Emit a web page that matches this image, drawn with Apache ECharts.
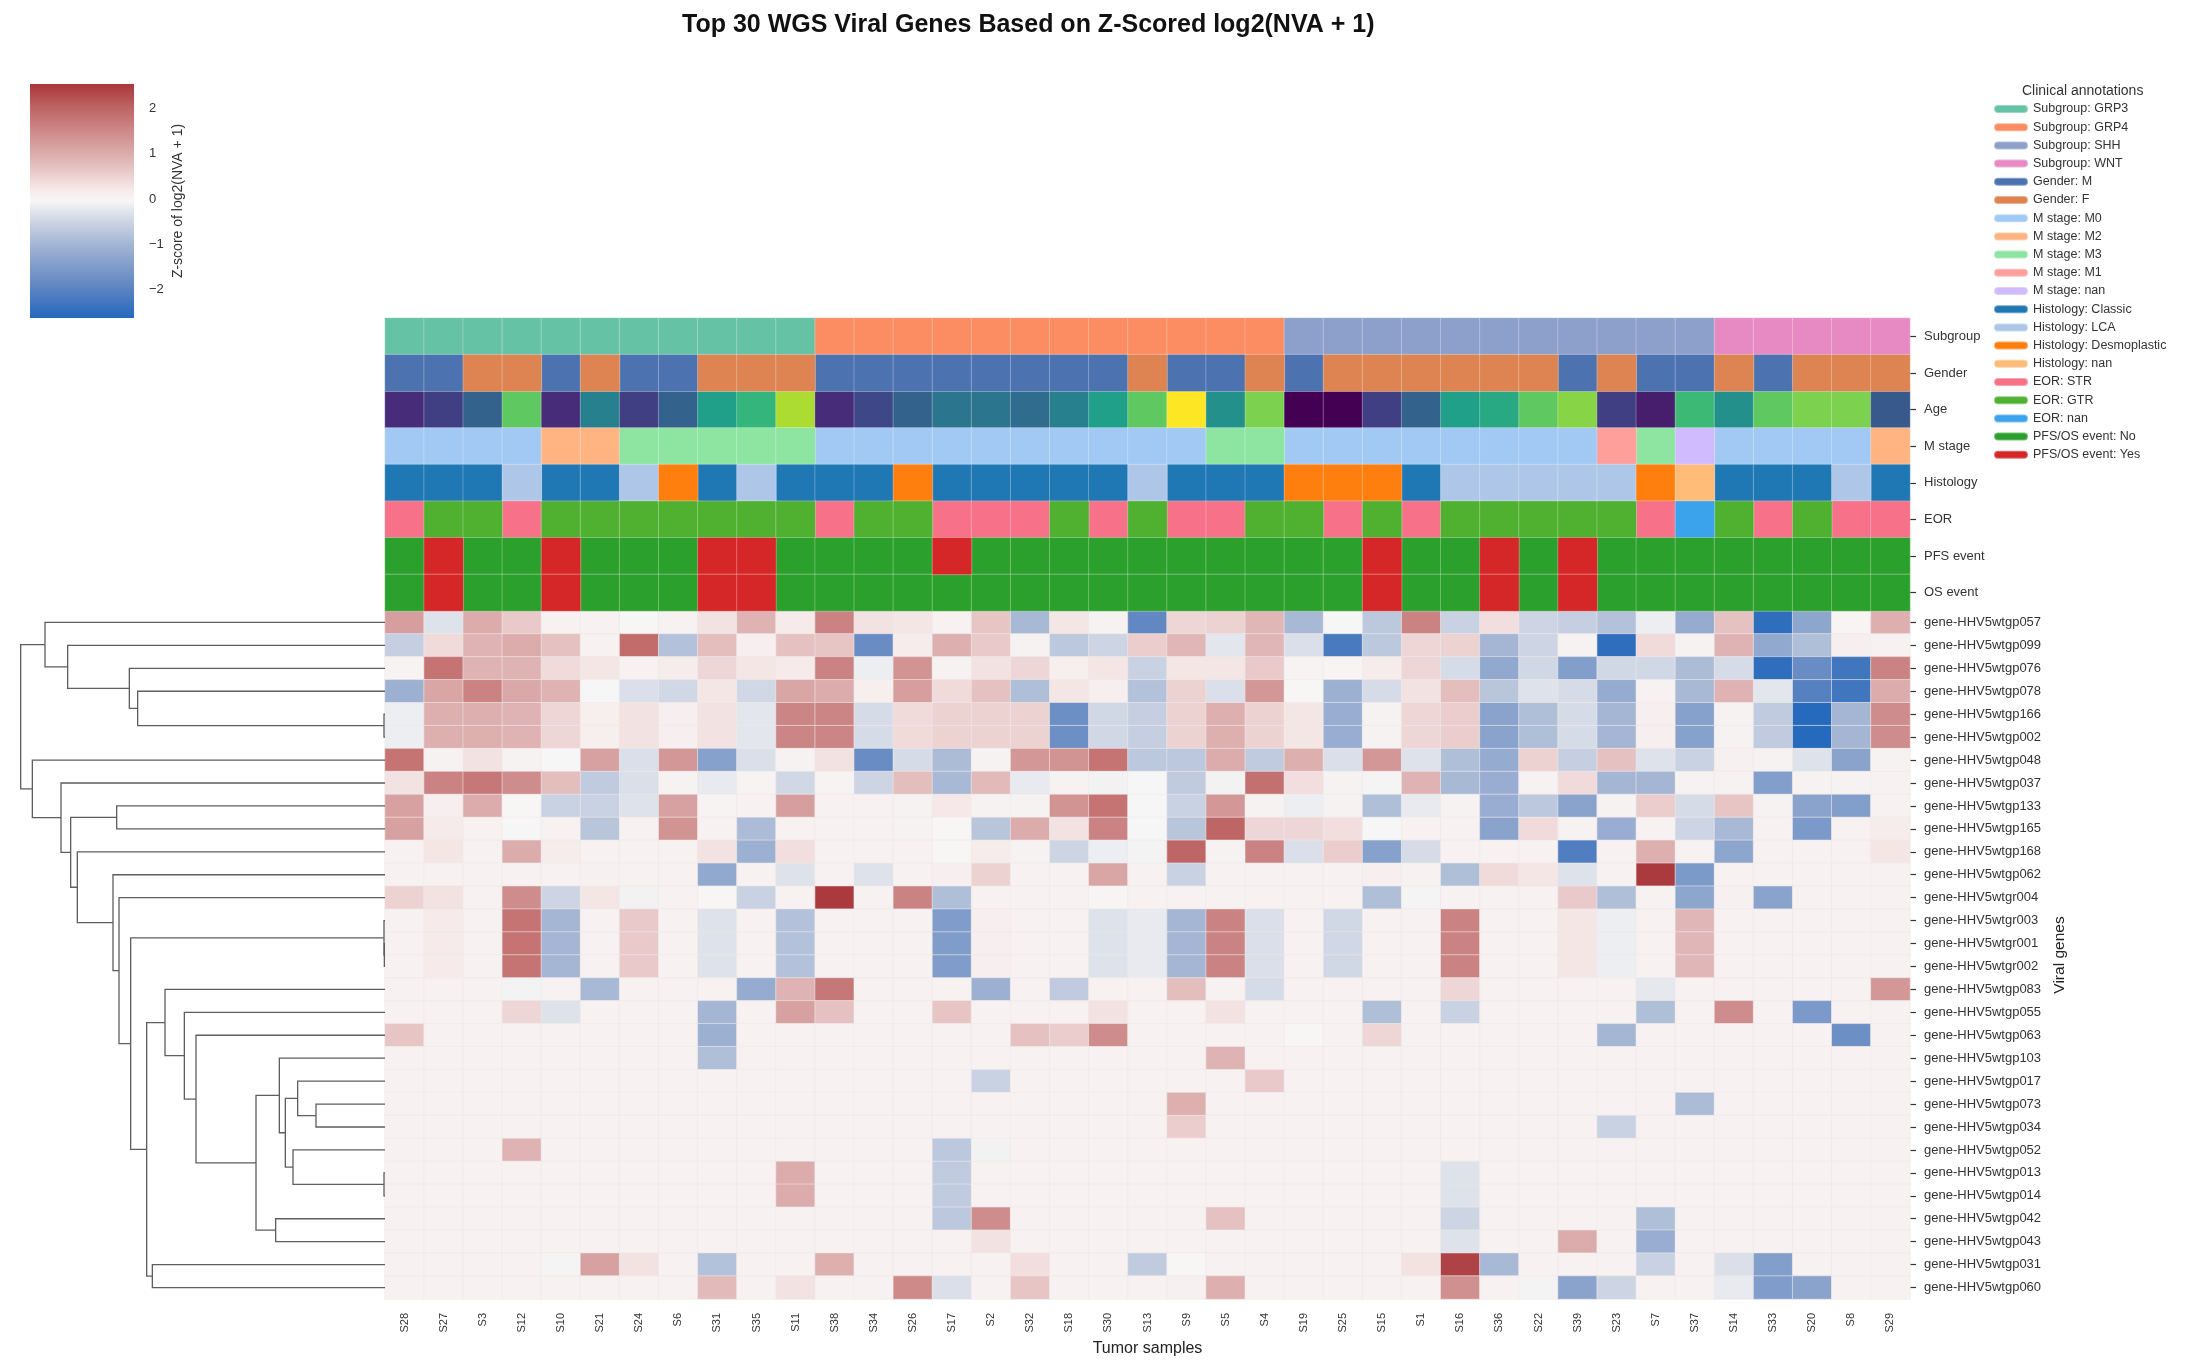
<!DOCTYPE html>
<html><head><meta charset="utf-8">
<script src="https://cdn.jsdelivr.net/npm/echarts@6/dist/echarts.min.js"></script>
<style>html,body{margin:0;padding:0;background:#fff}#c{width:2186px;height:1371px}</style>
</head><body><div id="c"></div>
<script>
// ---------- data ----------
const samples = ['S28','S27','S3','S12','S10','S21','S24','S6','S31','S35','S11','S38','S34','S26','S17','S2','S32','S18','S30','S13','S9','S5','S4','S19','S25','S15','S1','S16','S36','S22','S39','S23','S7','S37','S14','S33','S20','S8','S29'];
const genes = ['gene-HHV5wtgp057','gene-HHV5wtgp099','gene-HHV5wtgp076','gene-HHV5wtgp078','gene-HHV5wtgp166','gene-HHV5wtgp002','gene-HHV5wtgp048','gene-HHV5wtgp037','gene-HHV5wtgp133','gene-HHV5wtgp165','gene-HHV5wtgp168','gene-HHV5wtgp062','gene-HHV5wtgr004','gene-HHV5wtgr003','gene-HHV5wtgr001','gene-HHV5wtgr002','gene-HHV5wtgp083','gene-HHV5wtgp055','gene-HHV5wtgp063','gene-HHV5wtgp103','gene-HHV5wtgp017','gene-HHV5wtgp073','gene-HHV5wtgp034','gene-HHV5wtgp052','gene-HHV5wtgp013','gene-HHV5wtgp014','gene-HHV5wtgp042','gene-HHV5wtgp043','gene-HHV5wtgp031','gene-HHV5wtgp060'];
const annRows = ['Subgroup','Gender','Age','M stage','Histology','EOR','PFS event','OS event'];

const subgroup = ['GRP3','GRP3','GRP3','GRP3','GRP3','GRP3','GRP3','GRP3','GRP3','GRP3','GRP3','GRP4','GRP4','GRP4','GRP4','GRP4','GRP4','GRP4','GRP4','GRP4','GRP4','GRP4','GRP4','SHH','SHH','SHH','SHH','SHH','SHH','SHH','SHH','SHH','SHH','SHH','WNT','WNT','WNT','WNT','WNT'];
const gender = ['M','M','F','F','M','F','M','M','F','F','F','M','M','M','M','M','M','M','M','F','M','M','F','M','F','F','F','F','F','F','M','F','M','M','F','M','F','F','F'];
const age = [4,5,7,14,4,9,5,7,11,12.5,16,4,5.5,7,8.2,8.2,7.6,9,11,14,18,10,14.8,2,2,5,7,11,11.6,14,15.1,5,3.3,12.9,10,14,14.8,14.8,6.5];
const mStage = ['M0','M0','M0','M0','M2','M2','M3','M3','M3','M3','M3','M0','M0','M0','M0','M0','M0','M0','M0','M0','M0','M3','M3','M0','M0','M0','M0','M0','M0','M0','M0','M1','M3','nan','M0','M0','M0','M0','M2'];
const histology = ['Classic','Classic','Classic','LCA','Classic','Classic','LCA','Desmoplastic','Classic','LCA','Classic','Classic','Classic','Desmoplastic','Classic','Classic','Classic','Classic','Classic','LCA','Classic','Classic','Classic','Desmoplastic','Desmoplastic','Desmoplastic','Classic','LCA','LCA','LCA','LCA','LCA','Desmoplastic','nan','Classic','Classic','Classic','LCA','Classic'];
const eor = ['STR','GTR','GTR','STR','GTR','GTR','GTR','GTR','GTR','GTR','GTR','STR','GTR','GTR','STR','STR','STR','GTR','STR','GTR','STR','STR','GTR','GTR','STR','GTR','STR','GTR','GTR','GTR','GTR','GTR','STR','nan','GTR','STR','GTR','STR','STR'];
const pfsEvent = ['No','Yes','No','No','Yes','No','No','No','Yes','Yes','No','No','No','No','Yes','No','No','No','No','No','No','No','No','No','No','Yes','No','No','Yes','No','Yes','No','No','No','No','No','No','No','No'];
const osEvent = ['No','Yes','No','No','Yes','No','No','No','Yes','Yes','No','No','No','No','No','No','No','No','No','No','No','No','No','No','No','Yes','No','No','Yes','No','Yes','No','No','No','No','No','No','No','No'];

// z-scored log2(NVA+1), one row per gene (columns follow samples order)
const zScores = [
[1.2,-0.3,1.0,0.6,0.05,0.05,-0.05,0.05,0.3,0.9,0.2,1.6,0.3, 0.25,0.05,0.65,-0.95,0.25,0.03,-1.9,0.45,0.5,0.85,-0.95,-0.05,-0.7, 1.6,-0.55,0.35,-0.5,-0.6,-0.8,-0.15,-1.2,0.7,-2.5,-1.3,0.0,0.95],
[-0.6,0.4,0.9,1.0,0.7,0.05,1.9,-0.8,0.75,0.1,0.7,0.65,-1.8, 0.15,0.95,0.6,0.03,-0.7,-0.5,0.55,0.85,-0.25,0.85,-0.35,-2.2,-0.7, 0.45,0.5,-1.0,-0.5,0.03,-2.5,0.4,0.03,0.9,-1.25,-0.85,0.1,0.05],
[0.02,1.8,0.9,0.9,0.4,0.25,0.05,0.15,0.45,0.25,0.2,1.6,-0.15, 1.35,0.03,0.3,0.45,0.12,0.25,-0.55,0.25,0.25,0.6,0.02,0.0,0.15, 0.45,-0.4,-1.25,-0.45,-1.45,-0.45,-0.45,-0.9,-0.4,-2.5,-1.8,-2.3,1.6],
[-1.1,1.1,1.6,1.05,0.9,-0.05,-0.35,-0.45,0.25,-0.45,1.1,1.0,0.12, 1.2,0.4,0.7,-0.85,0.25,0.1,-0.8,0.5,-0.35,1.3,-0.02,-1.1,-0.4, 0.3,0.75,-0.75,-0.3,-0.4,-1.2,0.05,-0.95,0.9,-0.25,-2.05,-2.3,1.0],
[-0.15,0.95,0.95,0.9,0.45,0.12,0.3,0.1,0.3,-0.25,1.55,1.55,-0.4, 0.4,0.5,0.5,0.5,-1.75,-0.45,-0.6,0.5,0.95,0.5,0.25,-1.15,0.03, 0.45,0.55,-1.35,-0.85,-0.4,-1.0,0.1,-1.4,0.03,-0.65,-2.6,-1.0,1.45],
[-0.15,0.95,0.95,0.9,0.45,0.12,0.3,0.1,0.3,-0.25,1.55,1.55,-0.4, 0.4,0.5,0.5,0.5,-1.75,-0.45,-0.6,0.5,0.95,0.5,0.25,-1.15,0.03, 0.45,0.55,-1.35,-0.85,-0.4,-1.0,0.1,-1.4,0.03,-0.65,-2.6,-1.0,1.45],
[1.8,0.03,0.3,0.03,-0.05,1.15,-0.35,1.3,-1.4,-0.35,0.03,0.3,-1.8, -0.4,-0.9,0.03,1.3,1.35,1.8,-0.7,-0.7,1.0,-0.65,0.95,-0.35,1.3, -0.3,-0.85,-1.2,0.5,-0.6,0.7,-0.3,-0.55,0.08,0.03,-0.3,-1.35,0.03],
[0.3,1.6,1.75,1.45,0.75,-0.65,-0.35,0.03,-0.2,0.02,-0.45,0.02,-0.5, 0.75,-0.95,0.8,-0.2,0.03,-0.1,-0.05,-0.65,-0.1,1.85,0.35,0.03,-0.07, 0.9,-0.95,-1.15,0.03,0.4,-1.0,-1.0,0.03,0.04,-1.45,0.03,0.03,0.05],
[1.15,0.1,1.0,-0.03,-0.55,-0.55,-0.3,1.15,0.02,0.05,1.2,0.05,0.05, 0.03,0.22,0.03,0.03,1.35,1.8,-0.05,-0.55,1.3,0.03,-0.15,0.03,-0.85, -0.2,0.03,-1.15,-0.7,-1.35,0.03,0.55,-0.4,0.65,0.03,-1.35,-1.45,0.05],
[1.15,0.2,0.05,-0.05,0.05,-0.75,0.05,1.35,0.05,-0.9,0.05,0.05,0.05, 0.03,-0.02,-0.75,1.0,0.3,1.6,-0.05,-0.75,2.0,0.45,0.45,0.35,-0.05, 0.05,0.05,-1.35,0.4,0.03,-1.15,0.05,-0.5,-0.95,0.05,-1.55,0.05,0.15],
[0.05,0.25,0.05,1.0,0.15,0.05,0.05,0.05,0.3,-1.1,0.35,0.05,0.05, 0.05,-0.02,0.15,0.03,-0.5,-0.15,-0.08,2.0,0.03,1.6,-0.35,0.55,-1.4, -0.4,0.05,0.05,0.05,-2.1,0.05,0.95,0.05,-1.3,0.05,0.05,0.05,0.25],
[0.05,0.05,0.05,0.05,0.05,0.08,0.05,0.05,-1.25,0.05,-0.3,0.05,-0.3, 0.05,0.1,0.5,0.05,0.05,1.1,0.05,-0.55,0.05,0.05,0.05,0.05,0.1, 0.05,-0.85,0.4,0.25,-0.3,0.05,2.5,-1.55,0.05,0.05,0.05,0.05,0.05],
[0.5,0.3,0.05,1.45,-0.5,0.25,-0.1,0.05,-0.03,-0.55,0.05,2.5,0.05, 1.6,-0.85,0.05,0.05,0.05,0.0,0.05,0.05,0.05,0.05,0.05,0.05,-0.85, -0.07,0.05,0.05,0.05,0.6,-0.85,0.05,-1.3,0.08,-1.35,0.05,0.05,0.05],
[0.05,0.2,0.05,1.8,-1.0,0.05,0.6,0.05,-0.3,0.05,-0.8,0.05,0.05, 0.05,-1.5,0.1,0.05,0.05,-0.3,-0.2,-1.0,1.6,-0.35,0.05,-0.45,0.05, 0.05,1.6,0.05,0.05,0.25,-0.15,0.05,0.85,0.05,0.05,0.05,0.05,0.05],
[0.05,0.2,0.05,1.8,-1.0,0.05,0.6,0.05,-0.3,0.05,-0.8,0.05,0.05, 0.05,-1.5,0.1,0.05,0.05,-0.3,-0.2,-1.0,1.6,-0.35,0.05,-0.45,0.05, 0.05,1.6,0.05,0.05,0.25,-0.15,0.05,0.85,0.05,0.05,0.05,0.05,0.05],
[0.05,0.2,0.05,1.8,-1.0,0.05,0.6,0.05,-0.3,0.05,-0.8,0.05,0.05, 0.05,-1.5,0.1,0.05,0.05,-0.3,-0.2,-1.0,1.6,-0.35,0.05,-0.45,0.05, 0.05,1.6,0.05,0.05,0.25,-0.15,0.05,0.85,0.05,0.05,0.05,0.05,0.05],
[0.05,0.05,0.05,-0.08,0.05,-0.95,0.05,0.05,0.05,-1.2,0.9,1.75,0.05, 0.05,0.05,-1.1,0.05,-0.65,0.05,0.05,0.75,0.05,-0.4,0.05,0.05,0.05, 0.05,0.45,0.05,0.05,0.05,0.05,-0.22,0.05,0.05,0.05,0.05,0.05,1.3],
[0.05,0.05,0.05,0.45,-0.3,0.05,0.05,0.05,-1.0,0.05,1.15,0.7,0.05, 0.05,0.65,0.05,0.05,0.05,0.3,0.05,0.05,0.3,0.05,0.05,0.05,-0.85, 0.05,-0.55,0.05,0.05,0.05,0.05,-0.85,0.05,1.45,0.05,-1.55,0.05,0.05],
[0.65,0.05,0.05,0.05,0.05,0.05,0.05,0.05,-1.1,0.05,0.05,0.05,0.05, 0.05,0.05,0.05,0.7,0.55,1.45,0.05,0.05,0.05,0.05,-0.03,0.05,0.45, 0.05,0.05,0.05,0.05,0.05,-1.0,0.05,0.05,0.05,0.05,0.05,-1.75,0.05],
[0.05,0.05,0.05,0.05,0.05,0.05,0.05,0.05,-0.85,0.05,0.05,0.05,0.05, 0.05,0.05,0.05,0.05,0.05,0.05,0.05,0.05,0.9,0.05,0.05,0.05,0.05, 0.05,0.05,0.05,0.05,0.05,0.05,0.05,0.05,0.05,0.05,0.05,0.05,0.05],
[0.05,0.05,0.05,0.05,0.05,0.05,0.05,0.05,0.05,0.05,0.05,0.05,0.05, 0.05,0.05,-0.55,0.05,0.05,0.05,0.05,0.05,0.05,0.6,0.05,0.05,0.05, 0.05,0.05,0.05,0.05,0.05,0.05,0.05,0.05,0.05,0.05,0.05,0.05,0.05],
[0.05,0.05,0.05,0.05,0.05,0.05,0.05,0.05,0.05,0.05,0.05,0.05,0.05, 0.05,0.05,0.05,0.05,0.05,0.05,0.05,0.95,0.05,0.05,0.05,0.05,0.05, 0.05,0.05,0.05,0.05,0.05,0.05,0.05,-0.9,0.05,0.05,0.05,0.05,0.05],
[0.05,0.05,0.05,0.05,0.05,0.05,0.05,0.05,0.05,0.05,0.05,0.05,0.05, 0.05,0.05,0.05,0.05,0.05,0.05,0.05,0.55,0.05,0.05,0.05,0.05,0.05, 0.05,0.05,0.05,0.05,0.05,-0.55,0.05,0.05,0.05,0.05,0.05,0.05,0.05],
[0.05,0.05,0.05,0.9,0.05,0.05,0.05,0.05,0.05,0.05,0.05,0.05,0.05, 0.05,-0.7,-0.1,0.05,0.05,0.05,0.05,0.05,0.05,0.05,0.05,0.05,0.05, 0.05,0.05,0.05,0.05,0.05,0.05,0.05,0.05,0.05,0.05,0.05,0.05,0.05],
[0.05,0.05,0.05,0.05,0.05,0.05,0.05,0.05,0.05,0.05,1.0,0.05,0.05, 0.05,-0.65,0.05,0.05,0.05,0.05,0.05,0.05,0.05,0.05,0.05,0.05,0.05, 0.05,-0.3,0.05,0.05,0.05,0.05,0.05,0.05,0.05,0.05,0.05,0.05,0.05],
[0.05,0.05,0.05,0.05,0.05,0.05,0.05,0.05,0.05,0.05,1.0,0.05,0.05, 0.05,-0.65,0.05,0.05,0.05,0.05,0.05,0.05,0.05,0.05,0.05,0.05,0.05, 0.05,-0.3,0.05,0.05,0.05,0.05,0.05,0.05,0.05,0.05,0.05,0.05,0.05],
[0.05,0.05,0.05,0.05,0.05,0.05,0.05,0.05,0.05,0.05,0.05,0.05,0.05, 0.05,-0.7,1.45,0.05,0.05,0.05,0.05,0.05,0.7,0.05,0.05,0.05,0.05, 0.05,-0.5,0.05,0.05,0.05,0.05,-0.85,0.05,0.05,0.05,0.05,0.05,0.05],
[0.05,0.05,0.05,0.05,0.05,0.05,0.05,0.05,0.05,0.05,0.05,0.05,0.05, 0.05,0.05,0.3,0.05,0.05,0.05,0.05,0.05,0.05,0.05,0.05,0.05,0.05, 0.05,-0.3,0.05,0.05,1.0,0.05,-1.15,0.05,0.05,0.05,0.05,0.05,0.05],
[0.05,0.05,0.05,0.05,-0.07,1.15,0.3,0.05,-0.8,0.05,0.05,0.95,0.05, 0.05,0.05,0.05,0.35,0.05,0.05,-0.65,-0.03,0.05,0.05,0.05,0.05,0.05, 0.3,2.4,-0.95,0.05,0.05,0.05,-0.55,0.05,-0.35,-1.45,0.05,0.05,0.05],
[0.05,0.05,0.05,0.05,0.05,0.05,0.05,0.05,0.8,0.05,0.3,0.05,0.05, 1.5,-0.35,0.05,0.65,0.05,0.05,0.05,0.07,0.95,0.05,0.05,0.05,0.05, 0.05,1.4,0.05,-0.08,-1.35,-0.5,0.05,0.05,-0.2,-1.5,-1.35,0.05,0.05]
];

// row dendrogram linkage: [childA, childB, distance]; leaves 0..29, merged nodes numbered from 30
const linkage = [
[4,5,0.03],[3,30,7.42],[2,31,7.67],[1,32,9.52],[0,33,10.20],
[8,9,8.05],[14,15,0.02],[13,36,0.03],[21,22,2.07],[20,38,2.62],
[24,25,0.03],[23,40,2.76],[39,41,2.99],[19,42,3.17],[26,27,3.28],
[43,44,3.87],[18,45,5.67],[17,46,6.02],[16,47,6.60],[28,29,6.98],
[48,49,7.15],[37,50,7.63],[12,51,7.98],[11,52,8.16],[10,53,9.23],
[35,54,9.43],[7,55,9.72],[6,56,10.58],[34,57,10.93]
];

const legendNames = ['Subgroup: GRP3','Subgroup: GRP4','Subgroup: SHH','Subgroup: WNT','Gender: M','Gender: F','M stage: M0','M stage: M2','M stage: M3','M stage: M1','M stage: nan','Histology: Classic','Histology: LCA','Histology: Desmoplastic','Histology: nan','EOR: STR','EOR: GTR','EOR: nan','PFS/OS event: No','PFS/OS event: Yes'];
const legendColors = ['#66c2a5','#fc8d62','#8da0cb','#e78ac3','#4c72b0','#dd8452','#a1c9f4','#ffb482','#8de5a1','#ff9f9b','#d0bbff','#1f77b4','#aec7e8','#ff7f0e','#ffbb78','#f77189','#50b131','#3ba3ec','#2ca02c','#d62728'];

const zMin = -2.62, zMax = 2.53;
const zColors = ['#2369bd','#3a73be','#517ec0','#658ac3','#7897c8','#8ba4cd','#9eb1d2','#b2c1d9','#c8d1e2','#dee2ea','#f8f6f6','#f6e9e9','#eed4d4','#e5bfbf','#dcadad','#d59b9b','#ce8989','#c67676','#be6464','#b44d50','#a9373b'];
const viridis = ['#440154','#482878','#3e4989','#31688e','#26828e','#1f9e89','#35b779','#6ece58','#b5de2b','#fde725'];

// ---------- build ----------
const FONT = '"Liberation Sans", Arial, sans-serif';
const heatData = [];
zScores.forEach((row, r) => row.forEach((v, c) => heatData.push([c, r, v])));
const ageData = age.map((v, c) => [c, 2, v]);

function catData(rowIdx, arr, val) {
  const out = [];
  arr.forEach((v, c) => { if (v === val) out.push([c, rowIdx, 1]); });
  return out;
}
const annSources = {
  'Subgroup': [[0, subgroup]], 'Gender': [[1, gender]], 'M stage': [[3, mStage]],
  'Histology': [[4, histology]], 'EOR': [[5, eor]], 'PFS/OS event': [[6, pfsEvent], [7, osEvent]]
};
const catSeries = legendNames.map((name, i) => {
  const [key, val] = name.split(': ');
  let data = [];
  annSources[key].forEach(([ri, arr]) => { data = data.concat(catData(ri, arr, val)); });
  return {
    name, type: 'heatmap', xAxisIndex: 0, yAxisIndex: 0, data, silent: true,
    itemStyle: { color: legendColors[i], borderColor: 'rgba(255,255,255,0.35)', borderWidth: 0.8 },
    emphasis: { disabled: true }
  };
});

// dendrogram segments
const pos = [], ht = [];
genes.forEach((g, i) => { pos[i] = i; ht[i] = 0; });
const dendroSegs = [];
linkage.forEach(([a, b, h], k) => {
  const id = genes.length + k;
  dendroSegs.push({ coords: [[ht[a], pos[a]], [h, pos[a]], [h, pos[b]], [ht[b], pos[b]]] });
  pos[id] = (pos[a] + pos[b]) / 2; ht[id] = h;
});

const HM = { left: 385, width: 1525 };
const axisTickStyle = { show: true, length: 6, alignWithLabel: true, lineStyle: { color: '#333', width: 1.2 } };

const option = {
  animation: false,
  backgroundColor: '#fff',
  textStyle: { fontFamily: FONT },
  title: [
    { text: 'Top 30 WGS Viral Genes Based on Z-Scored log2(NVA + 1)', left: 682, top: 13, padding: 0,
      textStyle: { fontSize: 25, fontWeight: 'bold', color: '#111', fontFamily: FONT } },
    { text: 'Clinical annotations', left: 2022, top: 84, padding: 0,
      textStyle: { fontSize: 14, fontWeight: 'normal', color: '#333', fontFamily: FONT } }
  ],
  legend: {
    data: legendNames, orient: 'vertical', left: 1993, top: 101.5, padding: 0,
    itemWidth: 34, itemHeight: 8, itemGap: 3.2, selectedMode: false,
    icon: 'path://M4,0 L30,0 A4,4 0 0 1 30,8 L4,8 A4,4 0 0 1 4,0 Z',
    textStyle: { fontSize: 12.5, lineHeight: 15, color: '#333', fontFamily: FONT }
  },
  grid: [
    { left: HM.left, width: HM.width, top: 318, height: 293 },
    { left: HM.left, width: HM.width, top: 611, height: 688 },
    { left: 14, width: 371, top: 611, height: 688 },
    { left: 30, width: 104, top: 84, height: 234 }
  ],
  xAxis: [
    { type: 'category', gridIndex: 0, data: samples, show: false },
    { type: 'category', gridIndex: 1, data: samples, position: 'bottom',
      axisLine: { show: false }, axisTick: { show: false },
      axisLabel: { interval: 0, rotate: 90, fontSize: 11, color: '#333', margin: 14 },
      name: 'Tumor samples', nameLocation: 'middle', nameGap: 41,
      nameTextStyle: { fontSize: 16, color: '#222' } },
    { type: 'value', gridIndex: 2, min: 0, max: 11.13, inverse: true, show: false },
    { type: 'value', gridIndex: 3, min: 0, max: 1, show: false }
  ],
  yAxis: [
    { type: 'category', gridIndex: 0, data: annRows, inverse: true, position: 'right',
      axisLine: { show: false }, axisTick: axisTickStyle,
      axisLabel: { fontSize: 13, color: '#333', margin: 14 } },
    { type: 'category', gridIndex: 1, data: genes, inverse: true, position: 'right',
      axisLine: { show: false }, axisTick: axisTickStyle,
      axisLabel: { fontSize: 13, color: '#333', margin: 14 },
      name: 'Viral genes', nameLocation: 'middle', nameRotate: 90, nameGap: 138,
      nameTextStyle: { fontSize: 15.5, color: '#222' } },
    { type: 'value', gridIndex: 2, min: -0.5, max: genes.length - 0.5, inverse: true, show: false },
    { type: 'value', gridIndex: 3, min: zMin, max: zMax, position: 'right',
      splitLine: { show: false }, axisLine: { show: false },
      axisTick: { show: true, length: 7, customValues: [-2, -1, 0, 1, 2], lineStyle: { color: '#333', width: 1.5 } },
      axisLabel: { customValues: [-2, -1, 0, 1, 2], fontSize: 13, color: '#333', margin: 15,
        formatter: v => (v < 0 ? '\u2212' + Math.abs(v) : String(v)) },
      name: 'Z-score of log2(NVA + 1)', nameLocation: 'middle', nameRotate: 90, nameGap: 37,
      nameTextStyle: { fontSize: 14, color: '#333' } }
  ],
  visualMap: [
    { type: 'continuous', show: false, min: zMin, max: zMax, seriesIndex: 0, dimension: 2,
      inRange: { color: zColors } },
    { type: 'continuous', show: false, min: 2, max: 18, seriesIndex: 1, dimension: 2,
      inRange: { color: viridis } }
  ],
  graphic: [{
    type: 'rect', shape: { x: 30, y: 84, width: 104, height: 234 }, silent: true, z: 1,
    style: { fill: new echarts.graphic.LinearGradient(0, 1, 0, 0,
      zColors.map((c, i) => ({ offset: i / (zColors.length - 1), color: c }))) }
  }],
  series: [
    { type: 'heatmap', xAxisIndex: 1, yAxisIndex: 1, data: heatData, silent: true,
      itemStyle: { borderColor: '#eeeaea', borderWidth: 0.6 }, emphasis: { disabled: true } },
    { type: 'heatmap', name: 'Age', xAxisIndex: 0, yAxisIndex: 0, data: ageData, silent: true,
      itemStyle: { borderColor: 'rgba(255,255,255,0.35)', borderWidth: 0.8 }, emphasis: { disabled: true } },
    { type: 'lines', coordinateSystem: 'cartesian2d', xAxisIndex: 2, yAxisIndex: 2, polyline: true,
      silent: true, data: dendroSegs, lineStyle: { color: '#5e5e5e', width: 1.3, opacity: 1 } }
  ].concat(catSeries)
};

const chart = echarts.init(document.getElementById('c'), null, { renderer: 'canvas' });
chart.setOption(option);
</script></body></html>
